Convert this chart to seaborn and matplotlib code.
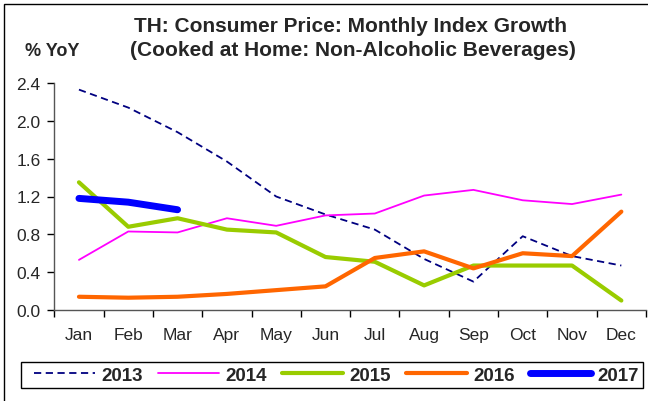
import matplotlib
matplotlib.use("Agg")
import matplotlib.pyplot as plt
import seaborn as sns
import pandas as pd
from matplotlib.patches import Rectangle

months = ["Jan", "Feb", "Mar", "Apr", "May", "Jun",
          "Jul", "Aug", "Sep", "Oct", "Nov", "Dec"]
y2013 = [2.33, 2.14, 1.88, 1.57, 1.20, 1.01, 0.85, 0.54, 0.30, 0.78, 0.57, 0.47]
y2014 = [0.53, 0.83, 0.82, 0.97, 0.89, 1.00, 1.02, 1.21, 1.27, 1.16, 1.12, 1.22]
y2015 = [1.35, 0.88, 0.97, 0.85, 0.82, 0.56, 0.51, 0.26, 0.47, 0.47, 0.47, 0.10]
y2016 = [0.14, 0.13, 0.14, 0.17, 0.21, 0.25, 0.55, 0.62, 0.44, 0.60, 0.57, 1.04]
y2017 = [1.18, 1.14, 1.06]
yticks = [0.0, 0.4, 0.8, 1.2, 1.6, 2.0, 2.4]

sns.set_theme(style="white")
plt.rcParams["font.family"] = ["Liberation Sans", "DejaVu Sans"]

W, H = 648, 402
fig = plt.figure(figsize=(W / 100, H / 100), dpi=100)
ax = fig.add_axes([54.3 / W, (H - 311) / H, (646 - 54.3) / W, (311 - 84) / H])

series = [
    ("2013", y2013, "#000080", 1.3, (0, (4, 2.5))),
    ("2014", y2014, "#FF00FF", 1.3, "-"),
    ("2015", y2015, "#99CC00", 3.0, "-"),
    ("2016", y2016, "#FF6600", 3.0, "-"),
    ("2017", y2017, "#0000FF", 5.0, "-"),
]

handles = []
for name, vals, color, lw, ls in series:
    df = pd.DataFrame({"month": months[:len(vals)], "value": vals})
    sns.lineplot(data=df, x="month", y="value", ax=ax, color=color,
                 linewidth=lw, linestyle=ls, sort=False,
                 solid_capstyle="round", dash_capstyle="butt")
    handles.append(ax.lines[-1])

ax.set_xlim(-0.5, 11.5)
ax.set_ylim(0, 2.4)
ax.set_xlabel("")
ax.set_ylabel("")

# tick marks between months, labels centred on each month
ax.set_xticks([i - 0.5 for i in range(13)])
ax.set_xticklabels([])
ax.set_xticks(range(12), minor=True)
ax.set_xticklabels(months, minor=True, fontsize=12.5)
ax.tick_params(axis="x", which="major", length=5, width=1, color="black",
               direction="out", bottom=True)
ax.tick_params(axis="x", which="minor", length=0, pad=12)

ax.set_yticks(yticks)
ax.set_yticklabels([f"{v:.1f}" for v in yticks], fontsize=12.5)
ax.tick_params(axis="y", length=5, width=1, color="black", direction="out",
               left=True, pad=5)

for s in ["top", "right"]:
    ax.spines[s].set_visible(False)
for s in ["left", "bottom"]:
    ax.spines[s].set_color("#555555")
    ax.spines[s].set_linewidth(1.0)

fig.text(351 / W, 1 - 26 / H, "TH: Consumer Price: Monthly Index Growth",
         ha="center", va="center", fontsize=15, fontweight="bold")
fig.text(353 / W, 1 - 50 / H, "(Cooked at Home: Non-Alcoholic Beverages)",
         ha="center", va="center", fontsize=15, fontweight="bold")
fig.text(52 / W, 1 - 51 / H, "% YoY", ha="center", va="center",
         fontsize=13, fontweight="bold")

# legend entries without their own frame; box drawn separately
leg = fig.legend(handles, [s[0] for s in series], ncol=5,
                 loc="center", bbox_to_anchor=(336 / W, 1 - 376 / H),
                 frameon=False, handlelength=3.3, handletextpad=0.3,
                 columnspacing=0.8, borderpad=0.0,
                 prop={"weight": "bold", "size": 13.5})
fig.patches.append(Rectangle((21 / W, 1 - 389 / H), (643 - 21) / W, 26 / H,
                             transform=fig.transFigure, fill=False,
                             edgecolor="black", linewidth=1.0))

# outer frame around the figure
fig.patches.append(Rectangle((4 / W, -0.05), 1.1, 1 - 5 / H + 0.05,
                             transform=fig.transFigure, fill=False,
                             edgecolor="black", linewidth=1.0))

fig.savefig("out.png", dpi=100)
